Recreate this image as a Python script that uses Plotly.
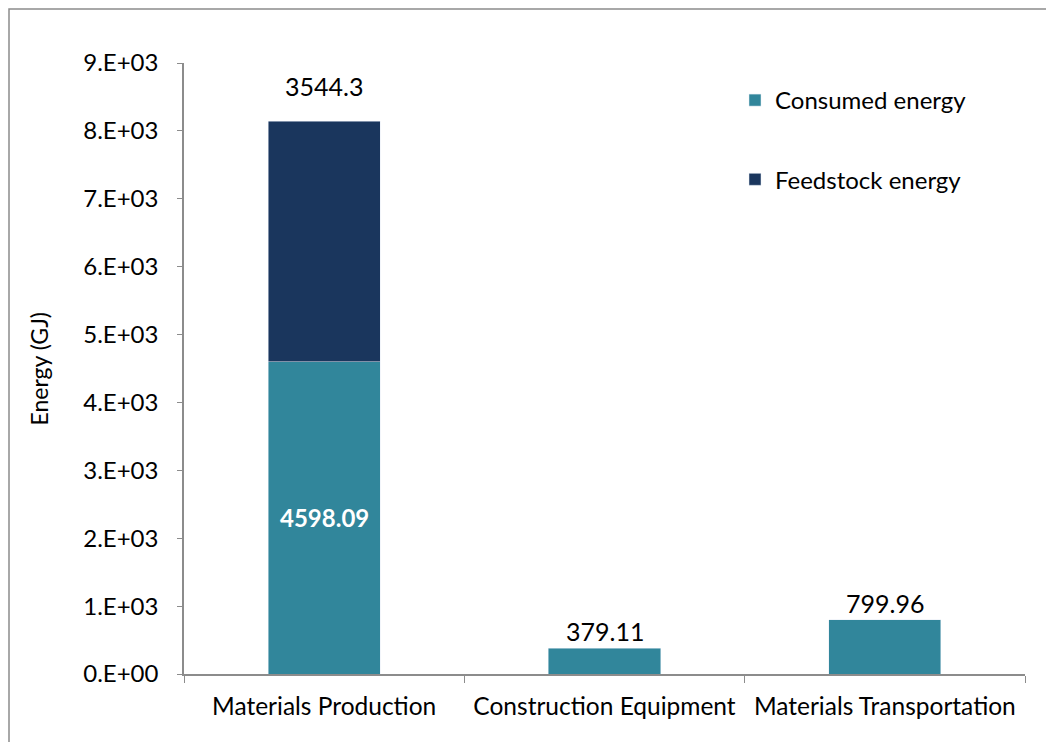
import plotly.graph_objects as go

categories = ["Materials Production", "Construction Equipment", "Materials Transportation"]
consumed = [4598.09, 379.11, 799.96]
feedstock = [3544.3, None, None]
consumed_labels = ["4598.09", "379.11", "799.96"]
feedstock_labels = ["3544.3", "", ""]
tick_vals = [0, 1000, 2000, 3000, 4000, 5000, 6000, 7000, 8000, 9000]
tick_text = ["0.E+00", "1.E+03", "2.E+03", "3.E+03", "4.E+03", "5.E+03",
             "6.E+03", "7.E+03", "8.E+03", "9.E+03"]

FONT = "Lato, 'Open Sans', sans-serif"
C_CONS = "#31869B"
C_FEED = "#1A365D"

# figure is placed at (8,8) in the page (body margin)
W, H = 1046, 734
ML, MR, MT, MB = 176, 29, 55, 68
PW = W - ML - MR
PH = H - MT - MB

fig = go.Figure()
fig.add_trace(go.Bar(
    x=categories, y=consumed, name="Consumed energy", marker_color=C_CONS,
    width=0.4, legendgroup="a",
))
fig.add_trace(go.Bar(
    x=categories, y=feedstock, name="Feedstock energy", marker_color=C_FEED,
    width=0.4, legendgroup="b",
))

# value labels
for i, cat in enumerate(categories):
    if feedstock[i]:
        fig.add_annotation(x=cat, y=consumed[i] / 2, text="<b>" + consumed_labels[i] + "</b>",
                           showarrow=False, font=dict(size=24, color="white", family=FONT),
                           yanchor="middle")
        fig.add_annotation(x=cat, y=consumed[i] + feedstock[i], text=feedstock_labels[i],
                           showarrow=False, font=dict(size=25, color="black", family=FONT),
                           yanchor="bottom", yshift=18)
    else:
        fig.add_annotation(x=cat, y=consumed[i], text=consumed_labels[i],
                           showarrow=False, font=dict(size=25, color="black", family=FONT),
                           yanchor="bottom", yshift=0)

fig.add_annotation(xref="paper", yref="paper", x=(30 - ML) / PW, y=0.5,
                   xanchor="center", yanchor="middle",
                   text="Energy (GJ)", textangle=-90, showarrow=False,
                   font=dict(size=23, color="black", family=FONT))

fig.add_shape(type="rect", xref="paper", yref="paper",
              x0=(1 - ML) / PW, x1=(W + 20 - ML) / PW,
              y0=-(MB + 20) / PH, y1=(PH + MT - 1) / PH,
              line=dict(color="#8C8C8C", width=1.5), fillcolor="rgba(0,0,0,0)", layer="below")

fig.update_layout(
    barmode="stack",
    width=W, height=H,
    margin=dict(l=ML, r=MR, t=MT, b=MB),
    paper_bgcolor="white", plot_bgcolor="white",
    font=dict(family=FONT, size=22, color="black"),
    showlegend=True,
    legend=dict(x=(727 - ML) / PW, y=(PH + MT - 70) / PH, xanchor="left", yanchor="top",
                traceorder="grouped", tracegroupgap=45,
                font=dict(size=24, family=FONT, color="black"),
                bgcolor="rgba(0,0,0,0)"),
    yaxis=dict(range=[0, 9000], tickvals=tick_vals, ticktext=tick_text,
               showgrid=False, zeroline=False, showline=True, linecolor="#8C8C8C",
               linewidth=1.5, ticks="outside", ticklen=5, tickcolor="#8C8C8C",
               ticklabelstandoff=14,
               tickfont=dict(size=24, family=FONT, color="black")),
    xaxis=dict(showline=True, linecolor="#8C8C8C", linewidth=1.5, ticks="outside",
               tickson="boundaries", ticklen=7, tickcolor="#8C8C8C",
               ticklabelstandoff=10,
               tickfont=dict(size=24.5, family=FONT, color="black")),
)

fig.write_html("out.html")
